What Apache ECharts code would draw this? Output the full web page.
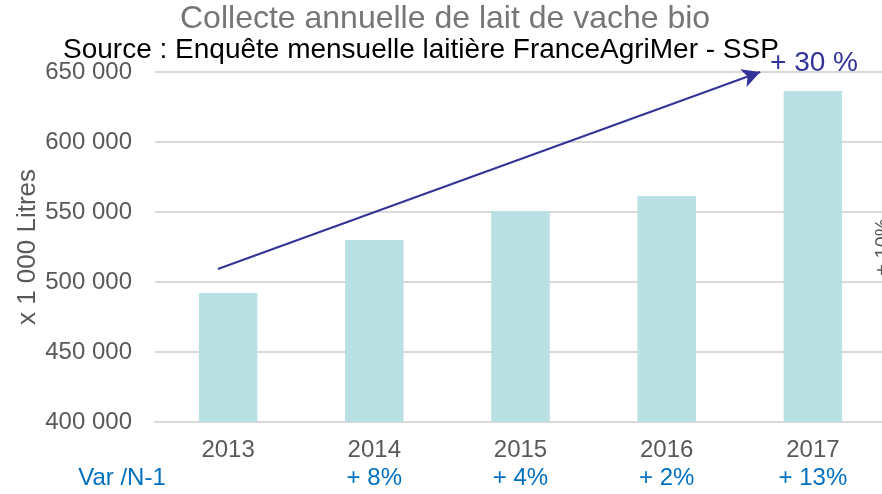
<!DOCTYPE html>
<html>
<head>
    <meta charset="utf-8">
    <title>Collecte annuelle de lait de vache bio</title>
    <script src="https://cdn.jsdelivr.net/npm/echarts@6/dist/echarts.min.js"></script>
    <style>
        html, body { margin: 0; padding: 0; overflow: hidden; background: #fff; }
    </style>
</head>
<body>
    <div id="main" style="width: 886px;height:494px;"></div>
    <script type="text/javascript">
        // données (x 1 000 litres)
        var annees = ['2013', '2014', '2015', '2016', '2017'];
        var collecte = [492100, 530000, 550700, 561400, 636400];
        var varN1 = ['', '+ 8%', '+ 4%', '+ 2%', '+ 13%'];
        // flèche de tendance : [position sur l'axe des catégories, valeur]
        var flecheDebut = [-0.07, 509300];
        var flecheFin = [3.64, 650000];
        var yTicks = { min: 400000, max: 650000, pas: 50000 };

        var myChart = echarts.init(document.getElementById('main'));

        function fmtMilliers(v) {
            return String(v).replace(/\B(?=(\d{3})+(?!\d))/g, ' ');
        }

        var option = {
            textStyle: { fontFamily: 'Liberation Sans, Arial, sans-serif' },
            title: [
                {
                    text: 'Collecte annuelle de lait de vache bio',
                    left: 180, top: 3, padding: 0,
                    textStyle: { color: '#767676', fontSize: 32, fontWeight: 'normal' }
                },
                {
                    text: 'Source : Enquête mensuelle laitière FranceAgriMer - SSP',
                    left: 63, top: 36, padding: 0,
                    textStyle: { color: '#000', fontSize: 28, fontWeight: 'normal' }
                },
                {
                    text: '+ 30 %',
                    left: 770, top: 49, padding: 0,
                    textStyle: { color: '#333399', fontSize: 28, fontWeight: 'normal' }
                }
            ],
            graphic: [
                {
                    type: 'text', x: 122, y: 478,
                    style: { text: 'Var /N-1', fill: '#0070c0', fontSize: 24,
                             fontFamily: 'Liberation Sans, Arial, sans-serif',
                             align: 'center', verticalAlign: 'middle' }
                },
                {
                    type: 'text', x: 883, y: 247, rotation: Math.PI / 2,
                    style: { text: '+ 10%', fill: '#595959', fontSize: 20,
                             fontFamily: 'Liberation Sans, Arial, sans-serif',
                             align: 'center', verticalAlign: 'middle' }
                }
            ],
            grid: { left: 155, right: 0, top: 72, bottom: 72 },
            xAxis: [
                {
                    type: 'category',
                    data: annees,
                    axisLine: { lineStyle: { color: '#d9d9d9', width: 2 } },
                    axisTick: { show: false },
                    axisLabel: {
                        margin: 14,
                        interval: 0,
                        formatter: function (val, idx) {
                            return '{a|' + val + '}\n{v|' + (varN1[idx] || ' ') + '}';
                        },
                        rich: {
                            a: { color: '#595959', fontSize: 24, lineHeight: 28 },
                            v: { color: '#0070c0', fontSize: 24, lineHeight: 28 }
                        }
                    }
                },
                {
                    type: 'value', min: -0.5, max: 4.5, show: false
                }
            ],
            yAxis: {
                type: 'value',
                min: yTicks.min, max: yTicks.max, interval: yTicks.pas,
                name: 'x 1 000 Litres',
                nameLocation: 'middle',
                nameGap: 114,
                nameMoveOverlap: false,
                nameTextStyle: { color: '#595959', fontSize: 26 },
                axisLine: { show: false },
                axisTick: { show: false },
                splitLine: { lineStyle: { color: '#d9d9d9', width: 2 } },
                axisLabel: {
                    color: '#595959', fontSize: 24, margin: 23,
                    formatter: fmtMilliers
                }
            },
            series: [
                {
                    type: 'bar',
                    data: collecte,
                    barWidth: '40%',
                    itemStyle: { color: '#b9e0e3' }
                },
                {
                    type: 'scatter',
                    xAxisIndex: 1,
                    data: [],
                    markLine: {
                        silent: true,
                        symbol: ['none', 'arrow'],
                        symbolSize: [14, 18],
                        label: { show: false },
                        lineStyle: { color: '#333399', width: 2, type: 'solid' },
                        data: [[{ coord: flecheDebut }, { coord: flecheFin }]]
                    }
                }
            ]
        };

        myChart.setOption(option);
    </script>
</body>
</html>
